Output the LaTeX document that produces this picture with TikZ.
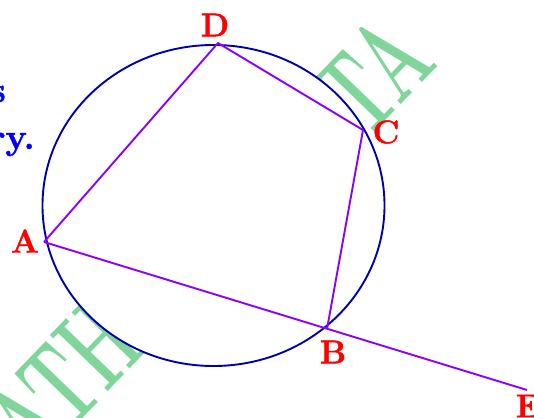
\documentclass[tikz,border=0pt]{standalone}
\usepackage{fontspec}
\usetikzlibrary{calc}
\newfontfamily\heavyfont{Latin Modern Roman}[BoldFeatures={FakeBold=1.2}]
\definecolor{ringblue}{RGB}{0,0,170}
\definecolor{sideviolet}{RGB}{140,0,255}
\definecolor{markgreen}{RGB}{128,214,154}

\begin{document}
\begin{tikzpicture}[x=1pt,y=-1pt,
  side/.style={sideviolet,line width=1.9pt,line join=round},
  lbl/.style={red,font=\fontsize{33}{40}\selectfont\heavyfont\bfseries,inner sep=0pt},
  wmark/.style={markgreen,font=\fontsize{118}{130}\selectfont\bfseries,rotate=46,xscale=0.58,inner sep=0pt,anchor=base},
  note/.style={blue,font=\fontsize{36}{42}\selectfont\heavyfont\bfseries,inner sep=0pt,anchor=base east}]
  \useasboundingbox (0,0) rectangle (534,417);
  \clip (0,0) rectangle (534,417);
  % watermark, partly hidden behind the disc
  \node[wmark] (wmA) at (91,410) {ATH};
  \node[wmark] (wmB) at (403,103) {TA};
  % ends of the text lines on the left
  \node[note] (n1) at (6,102) {s};
  \node[note] (n2) at (35,149) {ry.};
  % the circle
  \fill[white] (213.5,205.5) ellipse [x radius=171,y radius=160.5];
  \draw[ringblue,line width=1.9pt] (213.5,205.5) ellipse [x radius=171,y radius=160.5];
  % cyclic quadrilateral and AB produced to E
  \coordinate (A) at (44,242);
  \coordinate (D) at (218,43);
  \coordinate (C) at (363,130);
  \coordinate (B) at (327,329);
  \coordinate (E) at (527,390);
  \draw[side] (A) -- (D) -- (C) -- (B);
  \draw[side] (A) -- (E);
  % vertex labels
  \node[lbl] (lA) at (25,241) {A};
  \node[lbl] (lB) at (333,352) {B};
  \node[lbl] (lC) at (386,132) {C};
  \node[lbl] (lD) at (215,25) {D};
  \node[lbl] (lE) at (528,406) {E};
\end{tikzpicture}
\end{document}
